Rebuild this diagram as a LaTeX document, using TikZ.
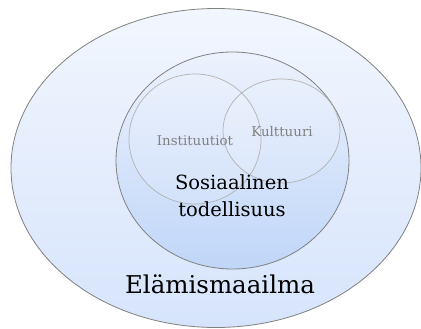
\documentclass[tikz,border=0pt]{standalone}
\usepackage{fontspec}
\setmainfont{DejaVu Serif}
\begin{document}
\begin{tikzpicture}[x=1pt,y=-1pt,
  ring/.style={draw=black!50,line width=0.8pt},
  thinring/.style={draw=black!30,line width=0.7pt},
  bigtext/.style={font=\fontsize{24.5}{28}\selectfont,text=black},
  midtext/.style={font=\fontsize{19.5}{27}\selectfont,text=black,align=center},
  smalltext/.style={font=\fontsize{13.4}{15}\selectfont,text=black!50}]
\useasboundingbox (0,0) rectangle (421,329);
% outer sphere: lifeworld
\shade[top color={rgb,255:red,242;green,246;blue,254},bottom color={rgb,255:red,214;green,228;blue,251}]
  (216,168) ellipse [x radius=205,y radius=159.5];
\draw[ring] (216,168) ellipse [x radius=205,y radius=159.5];
% social reality
\shade[top color={rgb,255:red,236;green,242;blue,253},bottom color={rgb,255:red,192;green,214;blue,248}]
  (232.5,160.5) ellipse [x radius=116.5,y radius=108.5];
\draw[ring] (232.5,160.5) ellipse [x radius=116.5,y radius=108.5];
% institutions and culture
\fill[white,opacity=0.12] (195,139) ellipse [x radius=66,y radius=65];
\fill[white,opacity=0.12] (281.5,131) ellipse [x radius=58.5,y radius=52];
\draw[thinring] (195,139) ellipse [x radius=66,y radius=65];
\draw[thinring] (281.5,131) ellipse [x radius=58.5,y radius=52];
\node[smalltext] (inst) at (195,141) {Instituutiot};
\node[smalltext] (kult) at (282,132) {Kulttuuri};
\node[midtext] (sos) at (232,196) {Sosiaalinen\\todellisuus};
\node[bigtext] (elam) at (220,284) {Elämismaailma};
\end{tikzpicture}
\end{document}
